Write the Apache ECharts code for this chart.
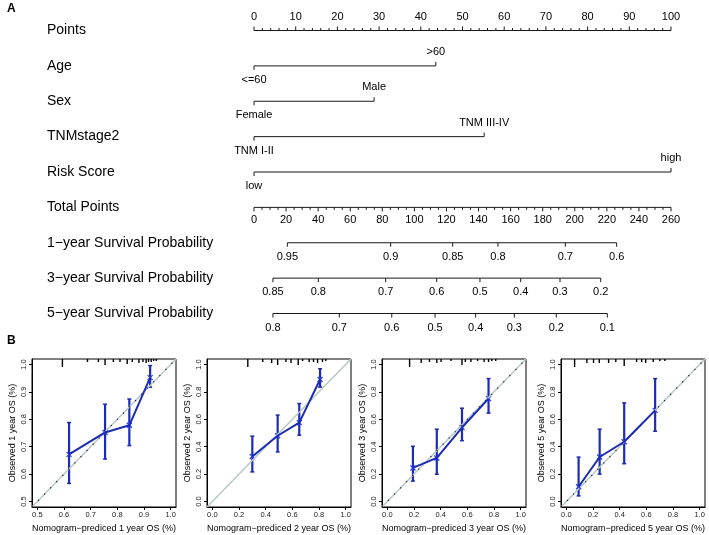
<!DOCTYPE html>
<html><head><meta charset="utf-8">
<script src="https://cdn.jsdelivr.net/npm/echarts@6/dist/echarts.min.js"></script>
<style>html,body{margin:0;padding:0;background:#fff}#c{width:709px;height:535px}</style>
</head><body><div id="c"></div>
<script>
// ---------------- Nomogram (panel A) ----------------
const rowNames = ['Points','Age','Sex','TNMstage2','Risk Score','Total Points',
  '1\u2212year Survival Probability','3\u2212year Survival Probability','5\u2212year Survival Probability'];
const pointsTicks = [0,10,20,30,40,50,60,70,80,90,100];
const pointsMinorStep = 2;
const ageLevels = ['<=60','>60'];           const agePts = [0, 43.6];
const sexLevels = ['Female','Male'];        const sexPts = [0, 28.8];
const tnmLevels = ['TNM I-II','TNM III-IV']; const tnmPts = [0, 55.2];
const riskLevels = ['low','high'];          const riskPts = [0, 100];
const totalTicks = [0,20,40,60,80,100,120,140,160,180,200,220,240,260];
const totalMinorStep = 5;
const surv1Labels = ['0.95','0.9','0.85','0.8','0.7','0.6'];
const surv1Total  = [20.8, 85.2, 123.9, 152.1, 194.1, 226.1];
const surv3Labels = ['0.85','0.8','0.7','0.6','0.5','0.4','0.3','0.2'];
const surv3Total  = [11.8, 40.1, 82.1, 113.9, 140.9, 166.3, 190.8, 216.2];
const surv5Labels = ['0.8','0.7','0.6','0.5','0.4','0.3','0.2','0.1'];
const surv5Total  = [11.8, 53.2, 85.9, 112.9, 138.2, 162.3, 188.5, 220.3];

// ---------------- Calibration (panel B) ----------------
const calYears = [1, 2, 3, 5];
const pred1 = [0.619, 0.754, 0.845, 0.923];
const obs1  = [0.672, 0.752, 0.778, 0.952];
const lo1   = [0.566, 0.655, 0.704, 0.917];
const hi1   = [0.788, 0.855, 0.874, 0.996];
const pred2 = [0.300, 0.490, 0.652, 0.808];
const obs2  = [0.328, 0.480, 0.576, 0.890];
const lo2   = [0.216, 0.362, 0.484, 0.835];
const hi2   = [0.477, 0.631, 0.715, 0.969];
const pred3 = [0.192, 0.371, 0.560, 0.759];
const obs3  = [0.245, 0.318, 0.540, 0.751];
const lo3   = [0.149, 0.199, 0.444, 0.645];
const hi3   = [0.403, 0.528, 0.681, 0.897];
const pred5 = [0.092, 0.250, 0.434, 0.666];
const obs5  = [0.108, 0.325, 0.436, 0.665];
const lo5   = [0.041, 0.200, 0.276, 0.513];
const hi5   = [0.324, 0.528, 0.720, 0.897];
const rug1x = [0.594,0.688,0.729,0.754,0.785,0.810,0.837,0.856,0.881,0.896,0.908,0.917,0.927,0.936,0.946];
const rug1n = [8,3,3,6,3,3,5,3,4,3,4,3,3,2,2];
const rug2x = [0.266,0.378,0.445,0.490,0.552,0.590,0.644,0.677,0.726,0.759,0.789,0.826,0.851];
const rug2n = [8,3,4,6,3,4,6,2,3,3,4,3,2];
const rug3x = [0.167,0.254,0.316,0.371,0.403,0.478,0.560,0.585,0.627,0.677,0.726,0.759,0.784,0.813];
const rug3n = [8,4,3,4,3,2,6,3,3,2,3,3,2,2];
const rug5x = [0.062,0.154,0.204,0.247,0.317,0.371,0.434,0.527,0.565,0.595,0.652,0.701,0.739];
const rug5n = [8,4,4,4,4,3,7,3,3,4,3,2,2];
const axRange1 = [0.48, 1.02];
const axRange  = [-0.04, 1.04];
const ticks1 = [0.5,0.6,0.7,0.8,0.9,1.0];
const ticks  = [0.0,0.2,0.4,0.6,0.8,1.0];

const FONT = '"Liberation Sans", Arial, Helvetica, sans-serif';
const INK = '#1a1a1a';

// row axis builder: ticks with optional labels; dir -1 = up, +1 = down
function rowSeries(row, xAxisIndex, xs, labels, dirs, lens, labelOff) {
  const lo = Math.min.apply(null, xs), hi = Math.max.apply(null, xs);
  return {
    type: 'custom', xAxisIndex: xAxisIndex, yAxisIndex: 0, silent: true, clip: false,
    data: xs.map((x, i) => [x, row, i]),
    renderItem(params, api) {
      const i = api.value(2);
      const p = api.coord([api.value(0), row]);
      const d = dirs[i];
      const ch = [];
      if (i === 0) {
        const a = api.coord([lo, row]), b = api.coord([hi, row]);
        ch.push({type: 'line', shape: {x1: a[0], y1: a[1], x2: b[0], y2: b[1]},
          style: {stroke: INK, lineWidth: 1}});
      }
      ch.push({type: 'line', shape: {x1: p[0], y1: p[1], x2: p[0], y2: p[1] + d * lens[i]},
        style: {stroke: INK, lineWidth: 1}});
      if (labels[i] != null) {
        ch.push({type: 'text', x: p[0], y: p[1] + d * labelOff,
          style: {text: labels[i], fill: '#000', font: '11px ' + FONT, align: 'center', verticalAlign: 'middle'}});
      }
      return {type: 'group', children: ch};
    }
  };
}
function withMinor(majors, step) {
  const xs = [], labels = [], lens = [];
  majors.forEach(v => { xs.push(v); labels.push(String(v)); lens.push(4); });
  for (let v = majors[0]; v < majors[majors.length - 1]; v += step) {
    if (majors.indexOf(v) < 0) { xs.push(v); labels.push(null); lens.push(2.5); }
  }
  return {xs, labels, lens};
}

const series = [];
const pAx = withMinor(pointsTicks, pointsMinorStep);
series.push(rowSeries(0, 0, pAx.xs, pAx.labels, pAx.xs.map(() => -1), pAx.lens, 14));
function catRow(row, pts, levels) {
  series.push(rowSeries(row, 0, pts, levels, pts.map((v, i) => i === 0 ? 1 : -1), pts.map(() => 4), 14));
}
catRow(1, agePts, ageLevels);
catRow(2, sexPts, sexLevels);
catRow(3, tnmPts, tnmLevels);
catRow(4, riskPts, riskLevels);
const tAx = withMinor(totalTicks, totalMinorStep);
series.push(rowSeries(5, 1, tAx.xs, tAx.labels, tAx.xs.map(() => 1), tAx.lens, 13));
function survRow(row, pos, labels) {
  series.push(rowSeries(row, 1, pos, labels, pos.map(() => 1), pos.map(() => 4), 14));
}
survRow(6, surv1Total, surv1Labels);
survRow(7, surv3Total, surv3Labels);
survRow(8, surv5Total, surv5Labels);

// calibration panels
const cal = [
  {pred: pred1, obs: obs1, lo: lo1, hi: hi1, rx: rug1x, rn: rug1n, range: axRange1, tk: ticks1, dots: true},
  {pred: pred2, obs: obs2, lo: lo2, hi: hi2, rx: rug2x, rn: rug2n, range: axRange, tk: ticks, dots: false},
  {pred: pred3, obs: obs3, lo: lo3, hi: hi3, rx: rug3x, rn: rug3n, range: axRange, tk: ticks, dots: true},
  {pred: pred5, obs: obs5, lo: lo5, hi: hi5, rx: rug5x, rn: rug5n, range: axRange, tk: ticks, dots: true}
];
const gridLefts = [32, 207, 382, 561];
const grids = [{left: 254, width: 417, top: 30.5, height: 283}];
const xAxes = [
  {type: 'value', gridIndex: 0, min: 0, max: 100, show: false},
  {type: 'value', gridIndex: 0, min: 0, max: 260, show: false}
];
const yAxes = [{
  type: 'category', gridIndex: 0, data: rowNames, inverse: true, boundaryGap: false,
  axisLine: {show: false}, axisTick: {show: false}, splitLine: {show: false},
  axisLabel: {align: 'left', margin: 207, fontSize: 14, color: '#000', fontFamily: FONT}
}];
const BLUE = '#1c2bb3';
cal.forEach((c, k) => {
  const g = k + 1;
  grids.push({left: gridLefts[k], width: 144, top: 359, height: 148, show: true,
    borderColor: '#000', borderWidth: 1, backgroundColor: 'transparent'});
  const common = {
    type: 'value', gridIndex: g, min: c.range[0], max: c.range[1],
    splitLine: {show: false},
    axisLine: {show: true, onZero: false, lineStyle: {color: '#000', width: 1}},
    axisTick: {show: true, length: 3, customValues: c.tk, lineStyle: {color: '#000'}},
    nameLocation: 'middle',
    nameTextStyle: {fontSize: 9, color: '#000', fontFamily: FONT}
  };
  xAxes.push(Object.assign({}, common, {
    name: 'Nomogram\u2212prediced ' + calYears[k] + ' year OS (%)', nameGap: 17,
    axisLabel: {customValues: c.tk, fontSize: 7.5, color: '#222', margin: 4, fontFamily: FONT,
      formatter: v => v.toFixed(1)}
  }));
  yAxes.push(Object.assign({}, common, {
    name: 'Observed ' + calYears[k] + ' year OS (%)', nameGap: 15,
    axisLabel: {customValues: c.tk, fontSize: 7.5, color: '#222', margin: 4, rotate: 90, fontFamily: FONT,
      formatter: v => v.toFixed(1)}
  }));
  const xi = k + 2, yi = k + 1;
  series.push({type: 'line', xAxisIndex: xi, yAxisIndex: yi, silent: true, symbol: 'none',
    data: [[c.range[0], c.range[0]], [c.range[1], c.range[1]]],
    lineStyle: {color: '#b9c9c9', width: 1.6}});
  if (c.dots) {
    series.push({type: 'line', xAxisIndex: xi, yAxisIndex: yi, silent: true, symbol: 'none',
      data: [[c.range[0], c.range[0]], [c.range[1], c.range[1]]],
      lineStyle: {color: '#222', width: 1.2, type: [1.2, 7.5]}});
  }
  series.push({type: 'line', xAxisIndex: xi, yAxisIndex: yi, silent: true, symbol: 'none',
    data: c.pred.map((p, i) => [p, c.obs[i]]),
    lineStyle: {color: BLUE, width: 2}});
  series.push({type: 'custom', xAxisIndex: xi, yAxisIndex: yi, silent: true,
    data: c.pred.map((p, i) => [p, c.obs[i], c.lo[i], c.hi[i]]),
    renderItem(params, api) {
      const m = api.coord([api.value(0), api.value(1)]);
      const l = api.coord([api.value(0), api.value(2)]);
      const h = api.coord([api.value(0), api.value(3)]);
      const st = {stroke: BLUE, lineWidth: 2.2};
      const st2 = {stroke: '#2b3df2', lineWidth: 1.3};
      return {type: 'group', children: [
        {type: 'line', shape: {x1: l[0], y1: l[1], x2: h[0], y2: h[1]}, style: st},
        {type: 'line', shape: {x1: l[0] - 2, y1: l[1], x2: l[0] + 2, y2: l[1]}, style: {stroke: BLUE, lineWidth: 1.5}},
        {type: 'line', shape: {x1: h[0] - 2, y1: h[1], x2: h[0] + 2, y2: h[1]}, style: {stroke: BLUE, lineWidth: 1.5}},
        {type: 'line', shape: {x1: m[0] - 2.5, y1: m[1] - 2.5, x2: m[0] + 2.5, y2: m[1] + 2.5}, style: st2},
        {type: 'line', shape: {x1: m[0] - 2.5, y1: m[1] + 2.5, x2: m[0] + 2.5, y2: m[1] - 2.5}, style: st2}
      ]};
    }});
  series.push({type: 'custom', xAxisIndex: xi, yAxisIndex: yi, silent: true,
    data: c.rx.map((x, i) => [x, c.rn[i]]),
    renderItem(params, api) {
      const t = api.coord([api.value(0), c.range[1]]);
      return {type: 'line', shape: {x1: t[0], y1: t[1], x2: t[0], y2: t[1] + api.value(1)},
        style: {stroke: '#000', lineWidth: 1.4}};
    }});
});

const chart = echarts.init(document.getElementById('c'), null, {renderer: 'canvas'});
chart.setOption({
  animation: false,
  backgroundColor: '#fff',
  textStyle: {fontFamily: FONT},
  grid: grids, xAxis: xAxes, yAxis: yAxes, series: series,
  graphic: [
    {type: 'text', left: 7, top: 3, style: {text: 'A', font: 'bold 12px ' + FONT, fill: '#000'}},
    {type: 'text', left: 7, top: 335, style: {text: 'B', font: 'bold 12px ' + FONT, fill: '#000'}}
  ]
});
</script></body></html>
